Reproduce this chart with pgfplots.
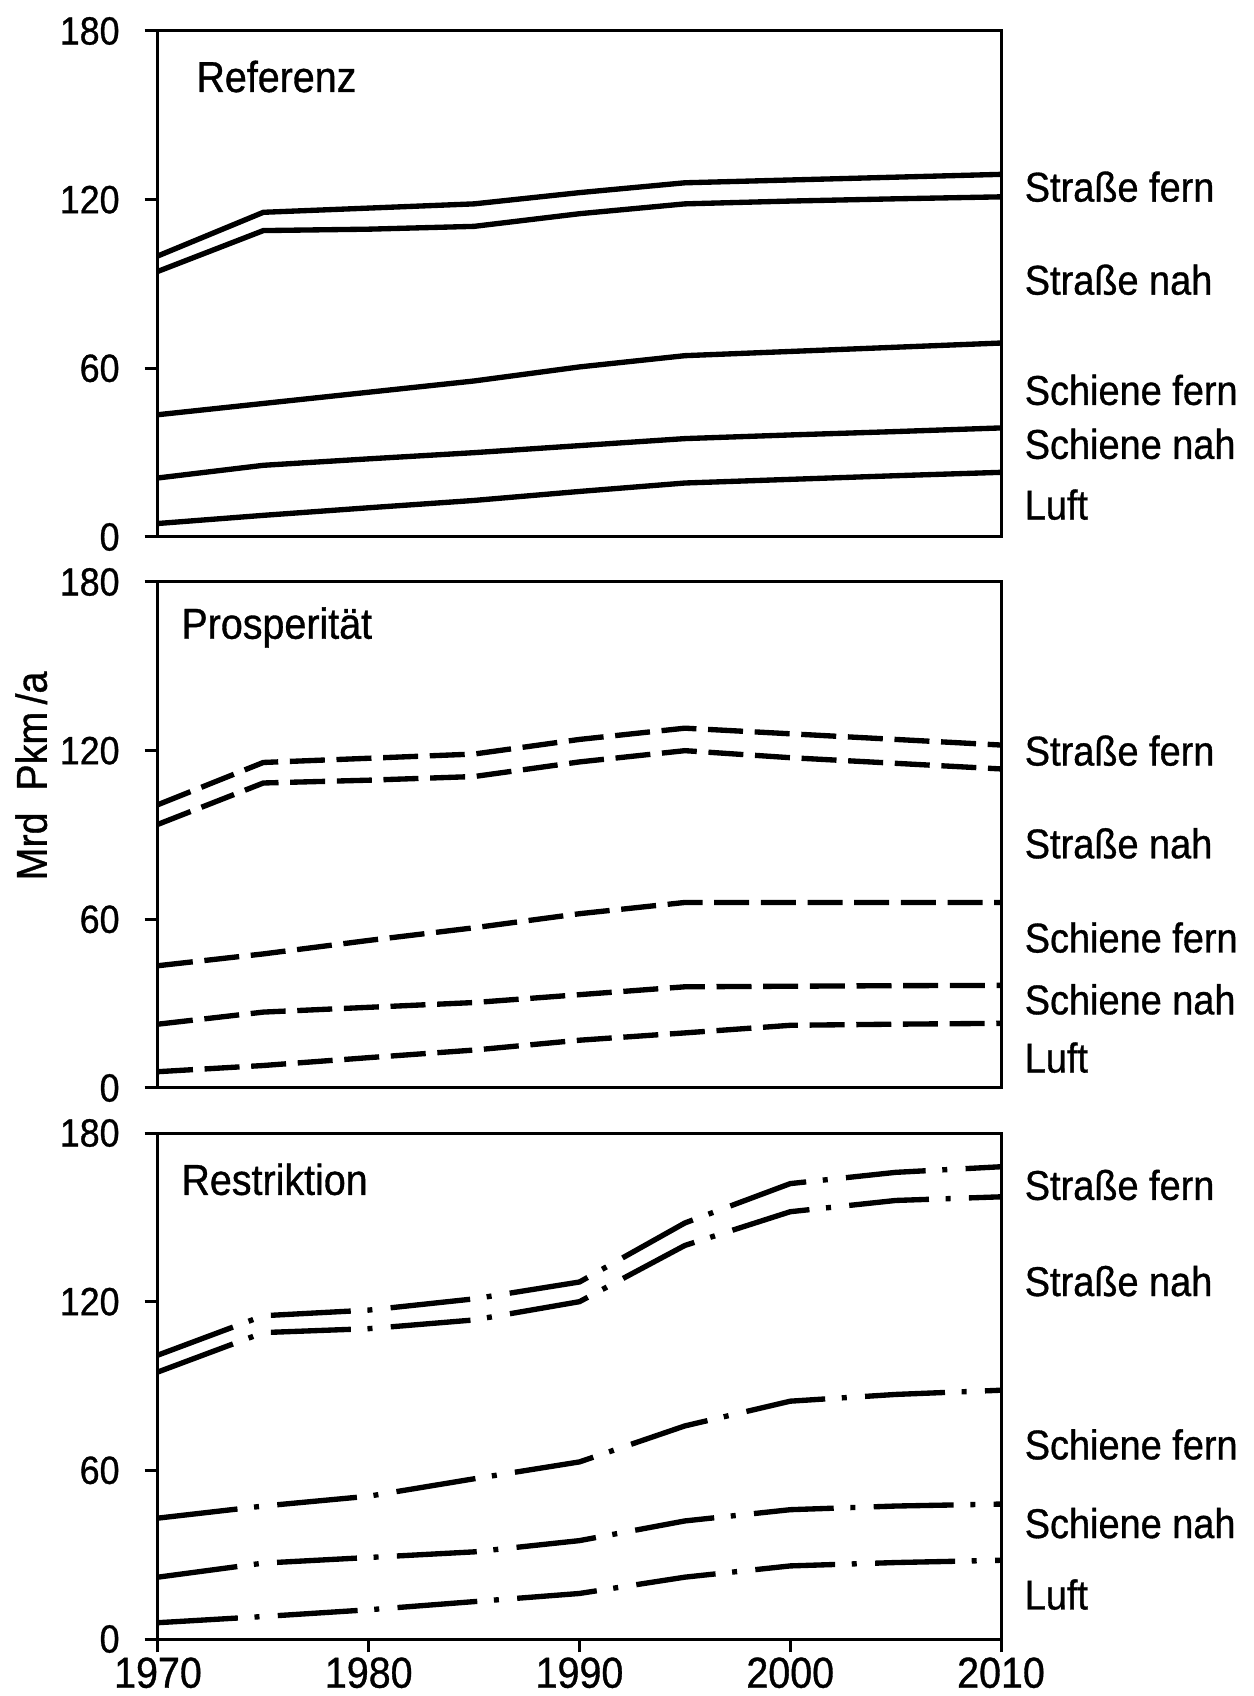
\documentclass[border=0pt]{standalone}
\usepackage{pgfplots}
\pgfplotsset{compat=1.18}
\usepackage{pgfplotstable}
\usepackage{fontspec}
\setmainfont{Liberation Sans}[FakeBold=0.8, FakeStretch=0.91]

% Personenverkehrsleistung in Mrd Pkm/a
% columns: year, Strasse fern, Strasse nah, Schiene fern, Schiene nah, Luft
\pgfplotstableread{
year sf    sn    schf schn luft
1970 100   94.5  43.5 21   4.8
1975 115.5 109   47.5 25.5 7.7
1980 117   109.5 51.5 27.8 10.4
1985 118.5 110.5 55.5 30   13
1990 122.5 115   60.5 32.5 16.2
1995 126   118.5 64.5 35   19.2
2000 127   119.5 66   36.3 20.5
2005 128   120.3 67.5 37.5 21.8
2010 129   121   69   38.8 23
}\referenz
\pgfplotstableread{
year sf    sn    schf schn luft
1970 100.8 93.8  43.5 22.7 5.8
1975 115.8 108.5 47.7 27   8
1980 117.3 109.5 52.5 28.7 10.8
1985 118.8 110.8 57   30.4 13.5
1990 124   116   62   33.2 17
1995 128   120   66   36   19.6
2000 126   117.5 66   36.2 22.3
2005 124   115.5 66   36.4 22.7
2010 122   113.5 66   36.5 23
}\prosperitaet
\pgfplotstableread{
year sf    sn    schf schn luft
1970 101   95    43   22   5.8
1975 115   109   47.3 27   8
1980 117   110.4 50.8 29   10.4
1985 121   113.5 57   31   13.3
1990 127   120   63   35   16.2
1995 148   140   75.8 42   22
2000 162   152   84.6 46   26
2005 166   156   87   47.3 27.2
2010 168   157.3 88.5 48   28
}\restriktion

\pgfplotsset{
  panel/.style={
    scale only axis,
    width=252.9pt, height=151.8pt,
    xmin=1970, xmax=2010, ymin=0, ymax=180,
    ytick={0,60,120,180},
    axis line style={line width=0.9pt},
    tick style={line width=0.9pt, black},
    major tick length=4pt,
    tick align=outside,
    ytick pos=left,
    xtick pos=bottom,
    yticklabel style={xshift=-4pt, font=\fontsize{11.8}{13}\selectfont},
    xticklabel style={yshift=2pt, font=\fontsize{13}{15}\selectfont},
    /pgf/number format/assume math mode=true,
    /pgf/number format/1000 sep={},
    clip=false,
    every axis plot/.append style={line width=1.6pt, black, mark=none},
  },
}

\tikzset{
  lab/.style={anchor=west, font=\fontsize{12.5}{14}\selectfont, xshift=3.6pt},
  ttl/.style={anchor=west, font=\fontsize{13}{15}\selectfont},
  dashA/.style={dash pattern=on 10.5pt off 3.5pt},
  dashB/.style={dash pattern=on 24pt off 5pt on 1.5pt off 5.5pt},
}

\begin{document}
\begin{tikzpicture}
\path[use as bounding box] (-47.4pt,-17.1pt) rectangle (328.8pt,491.7pt);

% Referenz
\begin{axis}[panel, at={(0pt,330.6pt)}, anchor=south west, xtick=\empty]
  \addplot[solid] table[x=year,y=sf]   {\referenz};
  \addplot[solid] table[x=year,y=sn]   {\referenz};
  \addplot[solid] table[x=year,y=schf] {\referenz};
  \addplot[solid] table[x=year,y=schn] {\referenz};
  \addplot[solid] table[x=year,y=luft] {\referenz};
  \node[ttl, xshift=8pt] at (axis cs:1970,163.8) {Referenz};
  \node[lab] at (axis cs:2010,124.6) {Straße fern};
  \node[lab] at (axis cs:2010,91.5)  {Straße nah};
  \node[lab] at (axis cs:2010,52.3)  {Schiene fern};
  \node[lab] at (axis cs:2010,33.1)  {Schiene nah};
  \node[lab] at (axis cs:2010,11.5)  {Luft};
\end{axis}

% Prosperitaet
\begin{axis}[panel, at={(0pt,165.3pt)}, anchor=south west, xtick=\empty]
  \addplot[dashA] table[x=year,y=sf]   {\prosperitaet};
  \addplot[dashA] table[x=year,y=sn]   {\prosperitaet};
  \addplot[dashA] table[x=year,y=schf] {\prosperitaet};
  \addplot[dashA] table[x=year,y=schn] {\prosperitaet};
  \addplot[dashA] table[x=year,y=luft] {\prosperitaet};
  \node[ttl, xshift=3.5pt] at (axis cs:1970,163.8) {Prosperität};
  \node[lab] at (axis cs:2010,120)  {Straße fern};
  \node[lab] at (axis cs:2010,87)   {Straße nah};
  \node[lab] at (axis cs:2010,53.5) {Schiene fern};
  \node[lab] at (axis cs:2010,31.5) {Schiene nah};
  \node[lab] at (axis cs:2010,10.8) {Luft};
\end{axis}

% Restriktion
\begin{axis}[panel, at={(0pt,0pt)}, anchor=south west,
  xtick={1970,1980,1990,2000,2010}]
  \addplot[dashB] table[x=year,y=sf]   {\restriktion};
  \addplot[dashB] table[x=year,y=sn]   {\restriktion};
  \addplot[dashB] table[x=year,y=schf] {\restriktion};
  \addplot[dashB] table[x=year,y=schn] {\restriktion};
  \addplot[dashB] table[x=year,y=luft] {\restriktion};
  \node[ttl, xshift=3.5pt] at (axis cs:1970,163.5) {Restriktion};
  \node[lab] at (axis cs:2010,161.5) {Straße fern};
  \node[lab] at (axis cs:2010,127.3) {Straße nah};
  \node[lab] at (axis cs:2010,69.2)  {Schiene fern};
  \node[lab] at (axis cs:2010,41.2)  {Schiene nah};
  \node[lab] at (axis cs:2010,15.8)  {Luft};
\end{axis}

% common y-axis title
\node[rotate=90, font=\fontsize{13}{15}\selectfont] at (-38pt,258.9pt) {Mrd\ \ Pkm\,/a};
\end{tikzpicture}
\end{document}
